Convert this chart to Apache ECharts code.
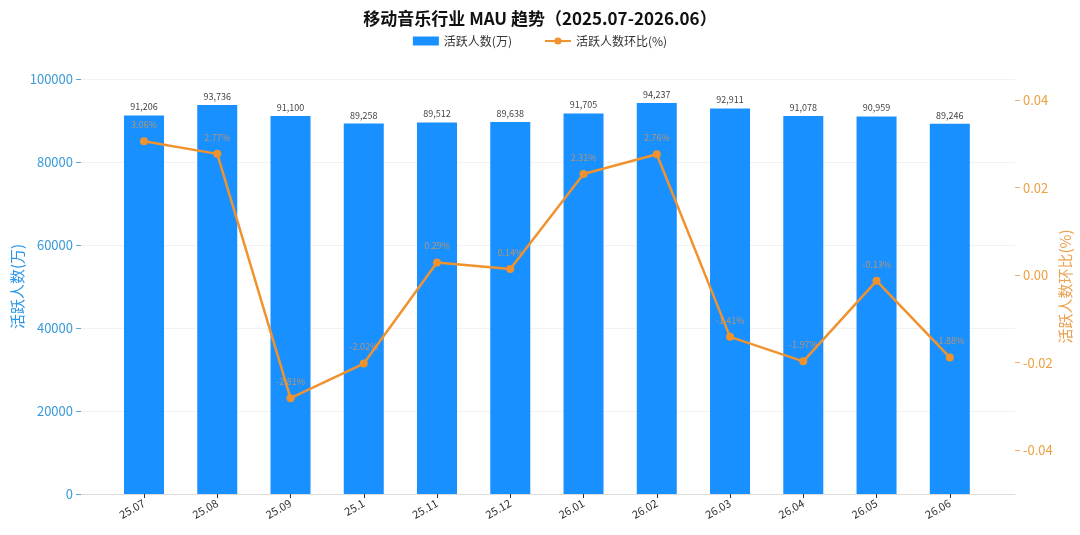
<!DOCTYPE html>
<html>
<head>
<meta charset="utf-8">
<title>移动音乐行业 MAU 趋势</title>
<script src="https://cdn.jsdelivr.net/npm/echarts@6/dist/echarts.min.js"></script>
<style>
  html, body { margin: 0; padding: 0; background: #fff; }
  #main { width: 1080px; height: 535px; }
</style>
</head>
<body>
<div id="main"></div>
<script>
// 月份
var months = ['25.07', '25.08', '25.09', '25.1', '25.11', '25.12', '26.01', '26.02', '26.03', '26.04', '26.05', '26.06']
// 活跃人数(万)
var mau = [91206, 93736, 91100, 89258, 89512, 89638, 91705, 94237, 92911, 91078, 90959, 89246]
// 活跃人数环比
var mom = [0.0306, 0.0277, -0.0281, -0.0202, 0.0029, 0.0014, 0.0231, 0.0276, -0.0141, -0.0197, -0.0013, -0.0188]
// 右轴刻度
var rightTicks = [-0.04, -0.02, 0, 0.02, 0.04]

var blue = '#1890ff'
var orange = '#f0922e'
var font = '"Noto Sans CJK SC", "Noto Sans", sans-serif'

var idx = months.map(function (m, i) { return i })

var chart = echarts.init(document.getElementById('main'))

var option = {
  backgroundColor: '#fff',
  textStyle: { fontFamily: font },
  title: {
    text: '移动音乐行业 MAU 趋势（2025.07-2026.06）',
    left: 'center',
    top: 5,
    textStyle: { fontSize: 17, fontWeight: 'bold', color: '#111', fontFamily: font }
  },
  legend: {
    top: 30,
    left: 'center',
    itemWidth: 26,
    itemHeight: 9,
    itemGap: 32,
    textStyle: { fontSize: 12, color: '#333', fontFamily: font },
    data: [
      { name: '活跃人数(万)', icon: 'rect' },
      { name: '活跃人数环比(%)' }
    ]
  },
  grid: {
    left: 81,
    right: 65,
    top: 79,
    bottom: 41,
    containLabel: false,
    outerBoundsMode: 'none'
  },
  xAxis: {
    type: 'value',
    min: -0.86,
    max: 11.89,
    splitLine: { show: false },
    axisLine: { show: true, onZero: false, lineStyle: { color: '#ddd' } },
    axisTick: {
      show: true,
      customValues: idx,
      length: 4,
      lineStyle: { color: '#333' }
    },
    axisLabel: {
      customValues: idx,
      rotate: 30,
      fontSize: 11,
      color: '#333',
      margin: 8,
      formatter: function (v) { return months[Math.round(v)] }
    }
  },
  yAxis: [
    {
      type: 'value',
      min: 0,
      max: 100000,
      interval: 20000,
      name: '活跃人数(万)',
      nameLocation: 'middle',
      nameRotate: 90,
      nameGap: 56,
      nameMoveOverlap: false,
      nameTextStyle: { fontSize: 15, color: '#2b96e8', fontFamily: font },
      axisLine: { show: false, onZero: false },
      axisTick: { show: true, length: 5, lineStyle: { color: '#5aa8e0' } },
      axisLabel: {
        fontSize: 13,
        color: '#3a9ad9',
        margin: 8,
        formatter: function (v) { return String(v) }
      },
      splitLine: { show: true, lineStyle: { color: '#f2f2f2' } }
    },
    {
      type: 'value',
      min: -0.05,
      max: 0.0448,
      name: '活跃人数环比(%)',
      nameLocation: 'middle',
      nameRotate: 90,
      nameGap: 43,
      nameMoveOverlap: false,
      nameTextStyle: { fontSize: 15, color: '#eba04e', fontFamily: font },
      axisLine: { show: false, onZero: false },
      axisTick: {
        show: true,
        customValues: rightTicks,
        length: 5,
        lineStyle: { color: '#f0b070' }
      },
      axisLabel: {
        customValues: rightTicks,
        fontSize: 13,
        color: '#eda040',
        margin: 8,
        formatter: function (v) { return v.toFixed(2) }
      },
      splitLine: { show: false }
    }
  ],
  series: [
    {
      name: '活跃人数(万)',
      type: 'bar',
      yAxisIndex: 0,
      barWidth: 40,
      itemStyle: { color: blue },
      label: {
        show: true,
        position: 'top',
        fontSize: 9,
        color: '#444',
        distance: 4,
        formatter: function (p) { return p.value[1].toLocaleString('en-US') }
      },
      data: mau.map(function (v, i) { return [i, v] }),
      z: 2
    },
    {
      name: '活跃人数环比(%)',
      type: 'line',
      yAxisIndex: 1,
      symbol: 'circle',
      symbolSize: 8,
      lineStyle: { color: orange, width: 2.5 },
      itemStyle: { color: orange },
      label: {
        show: true,
        position: 'top',
        distance: 8,
        fontSize: 9,
        color: 'rgba(232, 150, 70, 0.75)',
        formatter: function (p) { return (p.value[1] * 100).toFixed(2) + '%' }
      },
      data: mom.map(function (v, i) { return [i, v] }),
      z: 5
    }
  ]
}

chart.setOption(option)
</script>
</body>
</html>
